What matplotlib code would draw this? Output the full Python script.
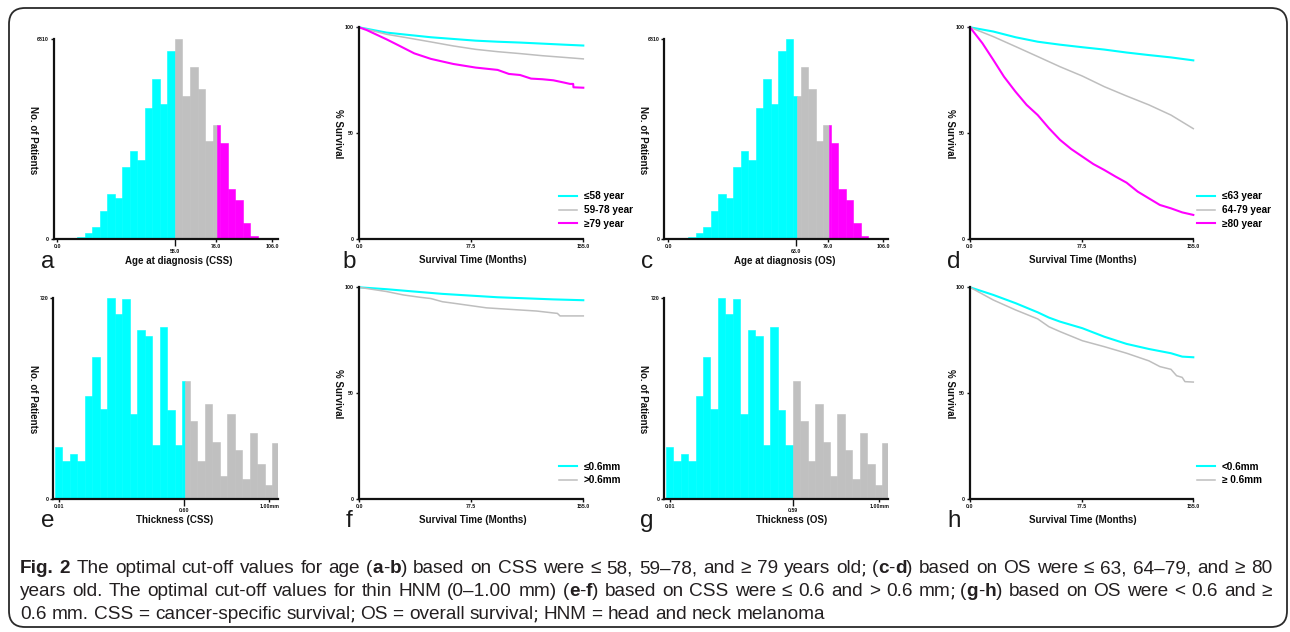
import matplotlib
matplotlib.use('Agg')
import matplotlib.pyplot as plt
from matplotlib import font_manager
from matplotlib.patches import FancyBboxPatch
from matplotlib.transforms import IdentityTransform

W, H, DPI = 1290, 632, 100

# ---------------- data ----------------
# Age histogram (shared by panels a and c)
age_bin_start = -1.2
age_bin_width = 3.7
age_counts = [20, 25, 35, 80, 215, 420, 975, 1530, 1416, 2447, 3003, 2697, 4464, 5462, 4612, 6402,
              6810, 4884, 5870, 5110, 3354, 3887, 3263, 1711, 1337, 544, 125, 34]
age_ymax = 6810
css_age_cuts = [58.0, 78.5]
os_age_cuts = [63.5, 79.5]
css_age_ticks = [0, 78, 106]
css_age_tick_labels = ['0.0', '78.0', '106.0']
css_age_cut_tick = [58]
css_age_cut_label = ['58.0']
os_age_ticks = [0, 79, 106]
os_age_tick_labels = ['0.0', '79.0', '106.0']
os_age_cut_tick = [63]
os_age_cut_label = ['63.0']

# Thickness histogram (shared by panels e and g)
thick_bin_start = -0.0101
thick_bin_width = 0.0353
thick_counts = [188, 136, 161, 136, 371, 511, 324, 720, 664, 716, 306, 606, 585, 194, 616, 318, 194,
                422, 279, 136, 340, 205, 84, 304, 176, 71, 236, 127, 50, 200]
thick_ymax = 720
css_thick_cuts = [0.605]
os_thick_cuts = [0.59]
thick_ticks = [0.01, 1.00]
thick_tick_labels = ['0.01', '1.00mm']
css_thick_cut_tick = [0.60]
css_thick_cut_label = ['0.60']
os_thick_cut_tick = [0.59]
os_thick_cut_label = ['0.59']

# Survival curves
b_t = [0, 19.1, 32.9, 49.7, 65.2, 80.6, 95.8, 111.3, 126.7, 141.9, 155]
b_le58 = [100, 97.5, 96.5, 95.3, 94.5, 93.7, 93.2, 92.8, 92.3, 91.8, 91.4]
b_59_78 = [100, 96.7, 95.1, 93.1, 91.2, 89.6, 88.5, 87.6, 86.6, 85.8, 85.1]
b_t_ge79 = [0, 5.3, 19.1, 26.7, 38.2, 49.7, 65.2, 80.6, 95.8, 103.6, 111.3, 118.9, 126.7, 134.3,
            141.9, 145.8, 148.0, 148.2, 155]
b_ge79 = [100, 98.7, 94.3, 91.7, 87.7, 85.1, 82.7, 81.0, 79.9, 78.0, 77.5, 75.8, 75.5, 75.0,
          73.9, 73.3, 73.3, 71.7, 71.5]

d_t = [0, 16.2, 31.7, 47.0, 62.5, 78.0, 93.2, 108.7, 124.2, 139.5, 155]
d_le63 = [100, 98.0, 95.3, 93.2, 91.8, 90.6, 89.5, 88.1, 86.9, 85.8, 84.4]
d_64_79 = [100, 95.6, 90.9, 86.2, 81.4, 77.0, 72.0, 67.6, 63.4, 58.6, 52.2]
d_t_ge80 = [0, 8.6, 16.2, 23.6, 31.5, 39.3, 47.0, 54.8, 62.5, 70.2, 78.0, 85.6, 93.2, 101.0,
            108.7, 116.4, 124.2, 131.8, 139.5, 147.3, 155]
d_ge80 = [100, 92.5, 84.6, 76.7, 69.7, 63.4, 58.6, 52.4, 46.9, 42.6, 39.0, 35.5, 32.7, 29.6,
          26.7, 22.5, 19.3, 16.2, 14.6, 12.7, 11.5]

f_t_le06 = [0, 19.1, 38.2, 57.6, 76.7, 95.8, 115.2, 134.3, 155]
f_le06 = [100, 99.1, 98.0, 96.9, 96.1, 95.3, 94.8, 94.3, 93.9]
f_t_gt06 = [0, 19.1, 30.6, 42.1, 49.7, 57.6, 65.2, 76.7, 88.2, 99.7, 111.3, 122.8, 134.3, 137.1,
            138.9, 155]
f_gt06 = [100, 98.0, 96.4, 95.3, 94.7, 93.2, 92.5, 91.4, 90.3, 89.8, 89.3, 88.8, 87.9, 87.7,
          86.5, 86.5]

h_t_lt06 = [0, 16.2, 31.7, 47.0, 54.8, 62.5, 78.0, 93.2, 108.7, 124.2, 139.5, 147.3, 155]
h_lt06 = [100, 96.4, 92.5, 88.2, 85.7, 83.8, 80.7, 76.7, 73.3, 70.9, 68.9, 67.3, 67.0]
h_t_ge06 = [0, 16.2, 31.7, 47.0, 54.8, 62.5, 78.0, 93.2, 108.7, 124.2, 131.8, 139.5, 143.4, 147.3,
            149.2, 155]
h_ge06 = [100, 94.0, 89.3, 85.1, 81.4, 79.1, 74.8, 72.0, 68.9, 65.3, 62.6, 61.3, 58.3, 57.5,
          55.5, 55.3]

surv_ticks = [0, 77.5, 155]
surv_tick_labels = ['0.0', '77.5', '155.0']

# ---------------- styling ----------------
CYAN, GRAY, MAG = '#00FFFF', '#C0C0C0', '#FF00FF'
GRAY_LINE = '#BEBEBE'
INK = '#111111'

plt.rcParams['font.family'] = ['Liberation Sans', 'DejaVu Sans']
plt.rcParams['font.weight'] = 'bold'

fig = plt.figure(figsize=(W / DPI, H / DPI), dpi=DPI)
renderer = fig.canvas.get_renderer()


def px_axes(l, t, r, b):
    return fig.add_axes([l / W, 1 - b / H, (r - l) / W, (b - t) / H])


def ptxt(x, y, s, **kw):
    return fig.text(x / W, 1 - y / H, s, **kw)


def base_style(ax):
    for s in ['top', 'right']:
        ax.spines[s].set_visible(False)
    for s in ['left', 'bottom']:
        ax.spines[s].set_linewidth(1.6)
        ax.spines[s].set_color(INK)
    ax.tick_params(which='major', width=1.0, length=2, labelsize=3.8, pad=1.5, colors=INK)


def draw_hist(ax, start, width, counts, cuts, colors):
    bounds = [-1e9] + list(cuts) + [1e9]
    for i, c in enumerate(counts):
        l = start + i * width
        r = l + width
        for k in range(len(bounds) - 1):
            pl = max(l, bounds[k])
            pr = min(r, bounds[k + 1])
            if pr > pl:
                ax.bar(pl, c, width=pr - pl, align='edge', color=colors[k],
                       edgecolor=colors[k], linewidth=0.4)


def hist_panel(pos, start, width, counts, cuts, colors, xlim, ymax, ticks, ticklabels,
               cut_tick, cut_label):
    ax = px_axes(*pos)
    draw_hist(ax, start, width, counts, cuts, colors)
    ax.set_xlim(*xlim)
    ax.set_ylim(0, ymax)
    base_style(ax)
    ax.set_yticks([0, ymax], ['0', str(ymax)])
    ax.set_xticks(ticks, ticklabels)
    ax.set_xticks(cut_tick, cut_label, minor=True)
    ax.tick_params(axis='x', which='minor', length=5, width=1.0, pad=1.8, labelsize=3.8,
                   colors=INK)
    return ax


def surv_panel(pos, curves, labels, colors, widths, leg_xy):
    ax = px_axes(*pos)
    handles = []
    for (t, s), c, lw in zip(curves, colors, widths):
        h, = ax.plot(t, s, color=c, lw=lw, clip_on=False, solid_joinstyle='round')
        handles.append(h)
    ax.set_xlim(0, 155)
    ax.set_ylim(0, 100)
    base_style(ax)
    ax.set_xticks(surv_ticks, surv_tick_labels)
    ax.set_yticks([0, 50, 100], ['0', '50', '100'])
    ax.legend(handles, labels, loc='upper left', bbox_to_anchor=(leg_xy[0] / W, 1 - leg_xy[1] / H),
              bbox_transform=fig.transFigure, frameon=False, fontsize=7.2, handlelength=1.75,
              handletextpad=0.7, labelspacing=0.36, borderpad=0, borderaxespad=0)
    return ax


age_xlim = (-1.85, 108.6)
thick_xlim = (-0.0165, 1.042)
hist_cols = [CYAN, GRAY, MAG]

# panel a
hist_panel((53.5, 39, 277.7, 239.3), age_bin_start, age_bin_width, age_counts, css_age_cuts,
           hist_cols, age_xlim, age_ymax, css_age_ticks, css_age_tick_labels,
           css_age_cut_tick, css_age_cut_label)
# panel c
hist_panel((664.3, 39, 888.3, 239.3), age_bin_start, age_bin_width, age_counts, os_age_cuts,
           hist_cols, age_xlim, age_ymax, os_age_ticks, os_age_tick_labels,
           os_age_cut_tick, os_age_cut_label)
# panel e
hist_panel((53.3, 298.3, 278.3, 499), thick_bin_start, thick_bin_width, thick_counts,
           css_thick_cuts, [CYAN, GRAY], thick_xlim, thick_ymax, thick_ticks, thick_tick_labels,
           css_thick_cut_tick, css_thick_cut_label)
# panel g
hist_panel((664.3, 298.3, 888.3, 499), thick_bin_start, thick_bin_width, thick_counts,
           os_thick_cuts, [CYAN, GRAY], thick_xlim, thick_ymax, thick_ticks, thick_tick_labels,
           os_thick_cut_tick, os_thick_cut_label)

# panel b
surv_panel((359, 27.3, 583.3, 239.3),
           [(b_t, b_le58), (b_t, b_59_78), (b_t_ge79, b_ge79)],
           ['≤58 year', '59-78 year', '≥79 year'], [CYAN, GRAY_LINE, MAG], [1.5, 1.1, 1.5],
           (559, 191.5))
# panel d
surv_panel((970, 27.3, 1193.3, 239.3),
           [(d_t, d_le63), (d_t, d_64_79), (d_t_ge80, d_ge80)],
           ['≤63 year', '64-79 year', '≥80 year'], [CYAN, GRAY_LINE, MAG], [1.5, 1.1, 1.5],
           (1197, 191.5))
# panel f
surv_panel((359, 287.3, 583.3, 499.3),
           [(f_t_le06, f_le06), (f_t_gt06, f_gt06)],
           ['≤0.6mm', '>0.6mm'], [CYAN, GRAY_LINE], [1.5, 1.1], (559, 461.5))
# panel h
surv_panel((970, 287.3, 1193.3, 499.3),
           [(h_t_lt06, h_lt06), (h_t_ge06, h_ge06)],
           ['<0.6mm', '≥ 0.6mm'], [CYAN, GRAY_LINE], [1.5, 1.1], (1197, 461.5))

# axis titles
LBL = dict(fontsize=7, fontweight='bold', color=INK, ha='center', va='center')
xlabels = [(179, 261, 'Age at diagnosis (CSS)'), (473, 260, 'Survival Time (Months)'),
           (785, 261, 'Age at diagnosis (OS)'), (1083, 260, 'Survival Time (Months)'),
           (175, 520, 'Thickness (CSS)'), (473, 520, 'Survival Time (Months)'),
           (792, 520, 'Thickness (OS)'), (1083, 520, 'Survival Time (Months)')]
for x, y, s in xlabels:
    ptxt(x, y, s, **LBL)
ylabels = [(33, 140, 'No. of Patients'), (338.3, 133.3, '% Survival'),
           (643.3, 140, 'No. of Patients'), (950, 133.3, '% Survival'),
           (33.3, 398.7, 'No. of Patients'), (338.3, 393.3, '% Survival'),
           (643.3, 398.7, 'No. of Patients'), (950, 393.3, '% Survival')]
for x, y, s in ylabels:
    ptxt(x, y, s, rotation=270, **LBL)

# panel letters
letters = [(48, 'a', 268), (349, 'b', 268), (647, 'c', 268), (954, 'd', 268),
           (48, 'e', 527), (349, 'f', 527), (647, 'g', 527), (954, 'h', 527)]
for x, s, y in letters:
    ptxt(x, y, s, fontsize=17.5, fontweight='normal', color='#1a1a1a', ha='center',
         va='baseline')

# frame
frame = FancyBboxPatch((9, H - 627), 1287 - 9, 627 - 8,
                       boxstyle='round,pad=0,rounding_size=16', transform=IdentityTransform(),
                       facecolor='none', edgecolor='#2a2a2a', linewidth=1.3)
fig.patches.append(frame)

# caption
names = {f.name for f in font_manager.fontManager.ttflist}
cap_family = 'Liberation Sans Narrow' if 'Liberation Sans Narrow' in names else 'Liberation Sans'
semi_family = 'Roboto' if 'Roboto' in names else 'DejaVu Sans'
CAP_COLOR = '#231F20'

cap_lines = [
    [("Fig. 2", True), (" The optimal cut-off values for age (", False), ("a", True), ("-", False),
     ("b", True), (") based on CSS were ≤ 58, 59–78, and ≥ 79 years old; (", False), ("c", True),
     ("-", False), ("d", True), (") based on OS were ≤ 63, 64–79, and ≥ 80", False)],
    [("years old. The optimal cut-off values for thin HNM (0–1.00 mm) (", False), ("e", True),
     ("-", False), ("f", True), (") based on CSS were ≤ 0.6 and > 0.6 mm; (", False), ("g", True),
     ("-", False), ("h", True), (") based on OS were < 0.6 and ≥", False)],
    [("0.6 mm. CSS = cancer-specific survival; OS = overall survival; HNM = head and neck melanoma",
      False)],
]


def tokenize(segs):
    toks = []
    pending = False
    for text, bold in segs:
        parts = text.split(' ')
        for i, p in enumerate(parts):
            if i > 0:
                pending = True
            if p == '':
                continue
            sub = p.split(';')
            for j, q in enumerate(sub):
                if j > 0:
                    toks.append((';', bold, False))
                if q:
                    toks.append((q, bold, pending and len(toks) > 0))
                    pending = False
    return toks


def fam_for(s):
    return semi_family if s == ';' else cap_family


def text_w(s, bold, size):
    kw = dict(fontsize=size, fontweight='bold' if bold else 'normal', family=fam_for(s))
    t1 = fig.text(0, 0, '|' + s + '|', **kw)
    t2 = fig.text(0, 0, '||', **kw)
    w = t1.get_window_extent(renderer).width - t2.get_window_extent(renderer).width
    t1.remove()
    t2.remove()
    return w


cap_x0 = 20
cap_target = 1252
cap_baselines = [573, 596, 619]
tok_lines = [tokenize(l) for l in cap_lines]

s0 = 10.0
sp0 = text_w(' ', False, s0)
nat = sum(text_w(t, b, s0) for t, b, _ in tok_lines[0]) + sp0 * sum(1 for t in tok_lines[0] if t[2])
cap_size = s0 * cap_target / nat * 0.985
space_nat = text_w(' ', False, cap_size)

for li, toks in enumerate(tok_lines):
    widths = [text_w(t, b, cap_size) for t, b, _ in toks]
    nsp = sum(1 for t in toks if t[2])
    if li < 2:
        space = (cap_target - sum(widths)) / nsp
    else:
        space = space_nat
    x = cap_x0
    for (t, b, sp), w in zip(toks, widths):
        if sp:
            x += space
        ptxt(x, cap_baselines[li], t, fontsize=cap_size, fontweight='bold' if b else 'normal',
             family=fam_for(t), color=CAP_COLOR, ha='left', va='baseline')
        x += w

fig.savefig('out.png', dpi=DPI)
